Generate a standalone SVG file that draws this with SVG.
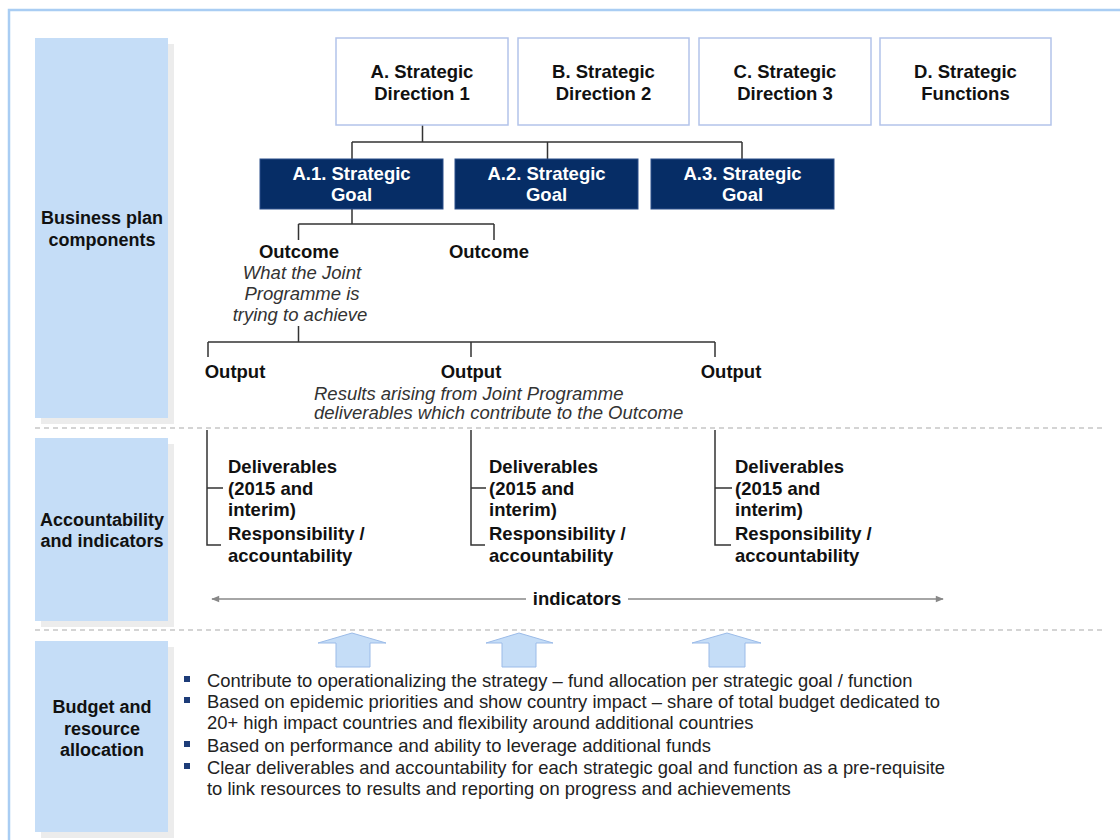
<svg xmlns="http://www.w3.org/2000/svg" width="1120" height="840" viewBox="0 0 1120 840">
  <defs>
    <style>
      .frame { fill: #ffffff; stroke: #a9cdf3; stroke-width: 2.5; }
      .panel { fill: #c5ddf7; }
      .shadow { fill: #ececec; }
      .lbl { font-family: "Liberation Sans", Arial, sans-serif; font-size: 18px; font-weight: bold; fill: #111; text-anchor: middle; }
      .dir { fill: #ffffff; stroke: #b3c3ea; stroke-width: 1.5; }
      .goal { fill: #062d66; stroke: #2a4f8a; stroke-width: 1; }
      .t { font-family: "Liberation Sans", Arial, sans-serif; font-size: 18.5px; font-weight: bold; fill: #111; }
      .tw { font-family: "Liberation Sans", Arial, sans-serif; font-size: 18.5px; font-weight: bold; fill: #ffffff; text-anchor: middle; }
      .it { font-family: "Liberation Sans", Arial, sans-serif; font-size: 18.5px; font-style: italic; fill: #333; }
      .body { font-family: "Liberation Sans", Arial, sans-serif; font-size: 18.4px; fill: #222; }
      .link { fill: none; stroke: #333; stroke-width: 1.5; }
      .dash { stroke: #aaaaaa; stroke-width: 1.2; stroke-dasharray: 5 4; }
      .ind { stroke: #888; stroke-width: 1.3; }
      .up { fill: #c5ddf7; stroke: #9bbbe8; stroke-width: 1; }
      .bullet { fill: #1d3c78; }
    </style>
    <marker id="ah" viewBox="0 0 10 10" refX="9" refY="5" markerWidth="10" markerHeight="8" markerUnits="userSpaceOnUse" orient="auto-start-reverse">
      <path d="M0,1 L10,5 L0,9 Z" fill="#888"/>
    </marker>
  </defs>

  <!-- outer frame -->
  <rect class="frame" x="9" y="10" width="1120" height="850"/>

  <!-- row labels -->
  <g id="row-business-plan">
    <rect class="shadow" x="41" y="44" width="133" height="380"/>
    <rect class="panel" x="35" y="38" width="133" height="380"/>
    <text class="lbl" x="102" y="224">Business plan</text>
    <text class="lbl" x="102" y="246">components</text>
  </g>
  <g id="row-accountability">
    <rect class="shadow" x="41" y="444" width="133" height="183"/>
    <rect class="panel" x="35" y="438" width="133" height="183"/>
    <text class="lbl" x="102" y="526">Accountability</text>
    <text class="lbl" x="102" y="547">and indicators</text>
  </g>
  <g id="row-budget">
    <rect class="shadow" x="41" y="647" width="133" height="191"/>
    <rect class="panel" x="35" y="641" width="133" height="191"/>
    <text class="lbl" x="102" y="713">Budget and</text>
    <text class="lbl" x="102" y="735">resource</text>
    <text class="lbl" x="102" y="756">allocation</text>
  </g>

  <!-- section separators -->
  <line class="dash" x1="35" y1="428" x2="1102" y2="428"/>
  <line class="dash" x1="35" y1="630" x2="1102" y2="630"/>

  <!-- connectors -->
  <g id="connectors">
    <path class="link" d="M422.5,125 V142 M352,142 H742 M352,142 V159 M547.5,142 V159 M742,142 V159"/>
    <path class="link" d="M352,209 V224 M298.5,224 H494 M298.5,224 V240 M494,224 V240"/>
    <path class="link" d="M298.5,326 V342 M208,342 H715 M208,342 V357 M471,342 V357 M715,342 V357"/>
    <path class="link" d="M207,430 V545 H221 M207,488 H223"/>
    <path class="link" d="M471,430 V545 H485 M471,488 H486"/>
    <path class="link" d="M715,430 V545 H731 M715,488 H732"/>
    <line class="ind" x1="526" y1="599" x2="212" y2="599" marker-end="url(#ah)"/>
    <line class="ind" x1="628" y1="599" x2="943" y2="599" marker-end="url(#ah)"/>
  </g>

  <!-- strategic directions -->
  <g id="dir-a">
    <rect class="dir" x="336" y="38" width="172" height="87"/>
    <text class="t" x="422" y="78" text-anchor="middle">A. Strategic</text>
    <text class="t" x="422" y="100" text-anchor="middle">Direction 1</text>
  </g>
  <g id="dir-b">
    <rect class="dir" x="518" y="38" width="171" height="87"/>
    <text class="t" x="603.5" y="78" text-anchor="middle">B. Strategic</text>
    <text class="t" x="603.5" y="100" text-anchor="middle">Direction 2</text>
  </g>
  <g id="dir-c">
    <rect class="dir" x="699" y="38" width="172" height="87"/>
    <text class="t" x="785" y="78" text-anchor="middle">C. Strategic</text>
    <text class="t" x="785" y="100" text-anchor="middle">Direction 3</text>
  </g>
  <g id="dir-d">
    <rect class="dir" x="880" y="38" width="171" height="87"/>
    <text class="t" x="965.5" y="78" text-anchor="middle">D. Strategic</text>
    <text class="t" x="965.5" y="100" text-anchor="middle">Functions</text>
  </g>

  <!-- strategic goals -->
  <g id="goal-a1">
    <rect class="goal" x="260" y="159" width="183" height="50"/>
    <text class="tw" x="351.5" y="180">A.1. Strategic</text>
    <text class="tw" x="351.5" y="201">Goal</text>
  </g>
  <g id="goal-a2">
    <rect class="goal" x="455" y="159" width="183" height="50"/>
    <text class="tw" x="546.5" y="180">A.2. Strategic</text>
    <text class="tw" x="546.5" y="201">Goal</text>
  </g>
  <g id="goal-a3">
    <rect class="goal" x="651" y="159" width="183" height="50"/>
    <text class="tw" x="742.5" y="180">A.3. Strategic</text>
    <text class="tw" x="742.5" y="201">Goal</text>
  </g>

  <!-- outcomes -->
  <g id="outcome-1">
    <text class="t" x="299" y="258" text-anchor="middle">Outcome</text>
    <text class="it" x="302" y="279" text-anchor="middle">What the Joint</text>
    <text class="it" x="302" y="300" text-anchor="middle">Programme is</text>
    <text class="it" x="300" y="321" text-anchor="middle">trying to achieve</text>
  </g>
  <g id="outcome-2">
    <text class="t" x="489" y="258" text-anchor="middle">Outcome</text>
  </g>

  <!-- outputs -->
  <g id="output-1">
    <text class="t" x="235" y="378" text-anchor="middle">Output</text>
  </g>
  <g id="output-2">
    <text class="t" x="471" y="378" text-anchor="middle">Output</text>
    <text class="it" x="314" y="400">Results arising from Joint Programme</text>
    <text class="it" x="314" y="419">deliverables which contribute to the Outcome</text>
  </g>
  <g id="output-3">
    <text class="t" x="731" y="378" text-anchor="middle">Output</text>
  </g>

  <!-- deliverables -->
  <g id="deliverables-1">
    <text class="t" x="228" y="473">Deliverables</text>
    <text class="t" x="228" y="495">(2015 and</text>
    <text class="t" x="228" y="516">interim)</text>
    <text class="t" x="228" y="540">Responsibility /</text>
    <text class="t" x="228" y="562">accountability</text>
  </g>
  <g id="deliverables-2">
    <text class="t" x="489" y="473">Deliverables</text>
    <text class="t" x="489" y="495">(2015 and</text>
    <text class="t" x="489" y="516">interim)</text>
    <text class="t" x="489" y="540">Responsibility /</text>
    <text class="t" x="489" y="562">accountability</text>
  </g>
  <g id="deliverables-3">
    <text class="t" x="735" y="473">Deliverables</text>
    <text class="t" x="735" y="495">(2015 and</text>
    <text class="t" x="735" y="516">interim)</text>
    <text class="t" x="735" y="540">Responsibility /</text>
    <text class="t" x="735" y="562">accountability</text>
  </g>

  <g id="indicators">
    <text class="t" x="577" y="605" text-anchor="middle">indicators</text>
  </g>

  <!-- upward block arrows -->
  <g id="up-arrows">
    <path class="up" d="M352,633 L386,643 L370,643 L370,667 L336,667 L336,643 L318,643 Z"/>
    <path class="up" d="M519,633 L553,643 L536,643 L536,667 L502,667 L502,643 L486,643 Z"/>
    <path class="up" d="M727,633 L761,643 L745,643 L745,667 L709,667 L709,643 L692,643 Z"/>
  </g>

  <!-- budget notes -->
  <g id="budget-notes">
    <rect class="bullet" x="184" y="676" width="6" height="6"/>
    <rect class="bullet" x="184" y="697" width="6" height="6"/>
    <rect class="bullet" x="184" y="741" width="6" height="6"/>
    <rect class="bullet" x="184" y="763" width="6" height="6"/>
    <text class="body" x="207" y="687">Contribute to operationalizing the strategy – fund allocation per strategic goal / function</text>
    <text class="body" x="207" y="708">Based on epidemic priorities and show country impact – share of total budget dedicated to</text>
    <text class="body" x="207" y="729">20+ high impact countries and flexibility around additional countries</text>
    <text class="body" x="207" y="752">Based on performance and ability to leverage additional funds</text>
    <text class="body" x="207" y="774">Clear deliverables and accountability for each strategic goal and function as a pre-requisite</text>
    <text class="body" x="207" y="795">to link resources to results and reporting on progress and achievements</text>
  </g>
</svg>
